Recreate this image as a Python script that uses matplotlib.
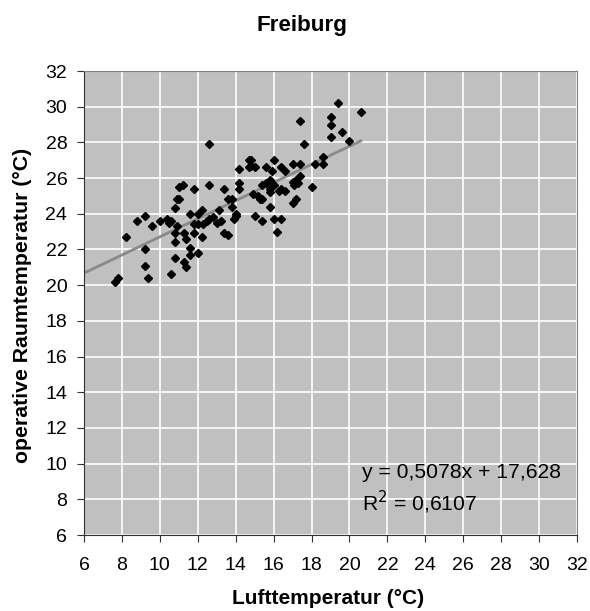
import matplotlib
matplotlib.use("Agg")
import matplotlib.pyplot as plt
import numpy as np

plt.rcParams['font.family'] = ['Liberation Sans', 'DejaVu Sans']

title = "Freiburg"
xlabel = "Lufttemperatur (°C)"
ylabel = "operative Raumtemperatur (°C)"
ticks = list(range(6, 33, 2))

air_temp = [
    12.6, 14.2, 14.7, 14.7, 11.0, 11.2, 11.8, 12.6, 13.4, 14.2, 14.2,
    10.9, 11.0, 13.6, 13.8, 10.8, 11.6, 12.0, 12.2, 9.2, 8.8, 9.6, 10.0,
    10.4, 10.5, 10.6, 10.9, 10.8, 11.3, 11.4, 10.8, 11.6, 11.6, 12.0,
    11.8, 12.2, 11.8, 12.0, 12.3, 12.5, 12.6, 12.8, 13.0, 13.2, 13.4,
    13.6, 13.1, 13.9, 14.0, 14.0, 13.8, 8.2, 9.2, 9.2, 9.4, 7.65, 7.8,
    10.6, 10.8, 11.3, 11.4,
    19.4, 20.6, 17.4, 19.0, 19.0, 19.0, 19.6, 20.0, 17.6, 18.6, 18.6,
    18.2, 14.8, 15.0, 14.8, 16.0, 17.0, 17.4, 16.4, 16.6, 15.6, 15.9,
    15.8, 15.4, 15.6, 15.8, 16.0, 14.9, 15.8, 16.3, 16.4, 16.6, 15.2,
    15.4, 15.3, 17.0, 17.2, 17.4, 17.1, 17.3, 18.0, 17.0, 17.2, 15.8,
    15.0, 15.4, 16.0, 16.4, 16.2,
]
room_temp = [
    27.9, 26.5, 27.0, 26.6, 25.5, 25.6, 25.4, 25.6, 25.4, 25.7, 25.4,
    24.8, 24.8, 24.8, 24.8, 24.3, 24.0, 24.0, 24.2, 23.9, 23.6, 23.3, 23.6,
    23.7, 23.5, 23.6, 23.3, 22.9, 22.9, 22.6, 22.4, 22.1, 21.7, 21.8,
    22.9, 22.7, 23.4, 23.4, 23.4, 23.6, 23.7, 23.8, 23.5, 23.6, 22.9,
    22.8, 24.2, 23.7, 23.9, 24.0, 24.4, 22.7, 22.0, 21.1, 20.4, 20.2, 20.4,
    20.6, 21.5, 21.3, 21.0,
    30.2, 29.7, 29.2, 29.4, 29.0, 28.3, 28.6, 28.1, 27.9, 27.2, 26.8,
    26.8, 27.0, 26.6, 26.7, 27.0, 26.8, 26.8, 26.6, 26.4, 26.6, 26.4,
    25.9, 25.6, 25.7, 25.4, 25.6, 25.1, 25.2, 25.3, 25.4, 25.3, 25.0,
    24.8, 24.8, 25.8, 25.9, 26.1, 25.6, 25.7, 25.5, 24.6, 24.8, 24.4,
    23.9, 23.6, 23.7, 23.7, 23.0,
]
slope = 0.5078
intercept = 17.628
r2 = 0.6107

W, H = 590, 611
fig = plt.figure(figsize=(W / 100, H / 100), dpi=100)
ax = fig.add_axes([84 / W, 1 - 535 / H, (577 - 84) / W, (535 - 71) / H])
ax.set_facecolor('#C0C0C0')
ax.set_xlim(6, 32)
ax.set_ylim(6, 32)
ax.set_xticks(ticks)
ax.set_yticks(ticks)
ax.grid(True, color='white', linewidth=1.2)
ax.set_axisbelow(True)
for s in ax.spines.values():
    s.set_color('#808080')
ax.spines['left'].set_color('#303030')
ax.spines['bottom'].set_color('#303030')
ax.tick_params(direction='out', length=5, color='#303030', labelsize=14)
ax.tick_params(axis='x', pad=11)
ax.tick_params(axis='y', pad=7)

ax.plot(air_temp, room_temp, linestyle='none', marker='D', markersize=3.9,
        color='black', zorder=3)

xs = np.array([6, max(air_temp)])
ax.plot(xs, slope * xs + intercept, color='#8a8a8a', linewidth=2, zorder=2)

renderer = fig.canvas.get_renderer()


def fit(t, target_px, horizontal=True):
    for _ in range(3):
        bb = t.get_window_extent(renderer=renderer)
        cur = bb.width if horizontal else bb.height
        t.set_fontsize(t.get_fontsize() * target_px / cur)


eq1 = fig.text(362 / W, 1 - 472 / H,
               f"y = {slope:.4f}x + {intercept:.3f}".replace('.', ','),
               fontsize=14, va='center', ha='left')
fit(eq1, 198)
eq2 = fig.text(362 / W, 1 - 502 / H, f"R$^2$ = {r2:.4f}".replace('.', ','),
               fontsize=eq1.get_fontsize(), va='center', ha='left')

t_title = fig.text(301.5 / W, 1 - 25 / H, title, ha='center', va='center',
                   fontsize=15, fontweight='bold')
fit(t_title, 91)
t_x = fig.text(328.5 / W, 1 - 598 / H, xlabel, ha='center', va='center',
               fontsize=14, fontweight='bold')
fit(t_x, 191)
t_y = fig.text(23 / W, 1 - 305 / H, ylabel, ha='center', va='center',
               rotation=90, fontsize=14, fontweight='bold')
fit(t_y, 316, horizontal=False)

fig.savefig('out.png', dpi=100)
